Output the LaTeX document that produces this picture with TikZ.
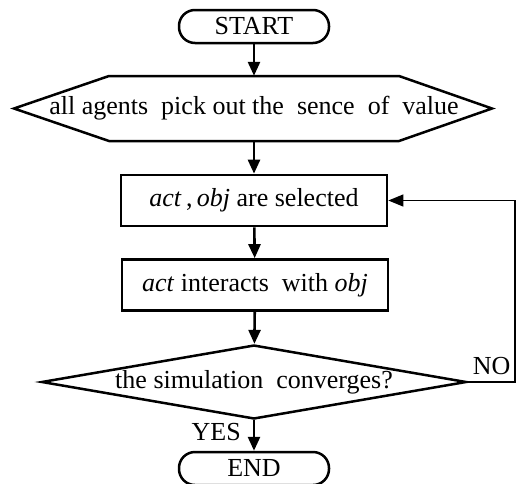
\documentclass[tikz,border=0pt]{standalone}
\usepackage{fontspec}
\setmainfont{Liberation Serif}
\usetikzlibrary{arrows.meta, positioning, shapes.geometric}
\definecolor{ink}{HTML}{000000}
\tikzset{
  font=\fontsize{26}{30}\selectfont,
  terminal/.style={rectangle, rounded corners=16pt, draw=ink, line width=2.5pt,
                   text=ink, minimum width=150pt, minimum height=33pt, inner sep=0pt},
  process/.style={rectangle, draw=ink, line width=2.7pt, text=ink,
                  minimum width=266pt, minimum height=51pt, inner sep=0pt},
  prep/.style={rectangle, text=ink, minimum height=65pt, inner sep=0pt},
  decision/.style={diamond, draw=ink, line width=2.5pt, text=ink, aspect=5.74,
                   inner sep=0pt, minimum width=425pt, minimum height=74pt},
  flow/.style={-{Triangle[length=14pt, width=12pt]}, draw=ink, line width=2.6pt},
  loopback/.style={-{Triangle[length=15pt, width=12pt]}, draw=ink, line width=1.3pt},
  tag/.style={text=ink, inner sep=0pt},
}

\begin{document}
\begin{tikzpicture}[x=1pt, y=-1pt]
\useasboundingbox (0,0) rectangle (517,483);

\node[terminal] (start) at (254, 26.5) {START};
\node[prep]     (pick)  at (254, 108.5) {all agents~ pick out the~ sence~ of~ value};
\node[process]  (sel)   at (254, 200.5) {\textit{act}\,,\,\textit{obj} are selected};
\node[process]  (inter) at (255, 285) {\textit{act} interacts~ with \textit{obj}};
\node[decision] (conv)  at (254, 382) {the simulation~ converges?};
\node[terminal] (stop)  at (254, 468.5) {END};

% hexagon round the preparation step
\draw[draw=ink, line width=2.5pt, line join=miter]
  ([shift={(-145,-32.5)}]pick.center) -- ([shift={(145,-32.5)}]pick.center)
  -- ([shift={(238,0)}]pick.center) -- ([shift={(145,32.5)}]pick.center)
  -- ([shift={(-145,32.5)}]pick.center) -- ([shift={(-240,0)}]pick.center) -- cycle;

% --- main flow ---
\draw[flow] (start) -- (pick);
\draw[flow] (pick) -- (sel);
\draw[flow] (sel) -- (inter);
\draw[flow] (inter) -- (conv);
\draw[flow] (conv) -- (stop);

% --- loop back when not converged ---
\coordinate (turn) at (515, 382);
\draw[loopback] (conv.east) -- (turn) |- (sel.east);

\node[tag, above right=7pt and 5pt of conv.east, anchor=south west] (no) {NO};
\node[tag, anchor=east] (yes) at (241, 432) {YES};

\end{tikzpicture}
\end{document}
